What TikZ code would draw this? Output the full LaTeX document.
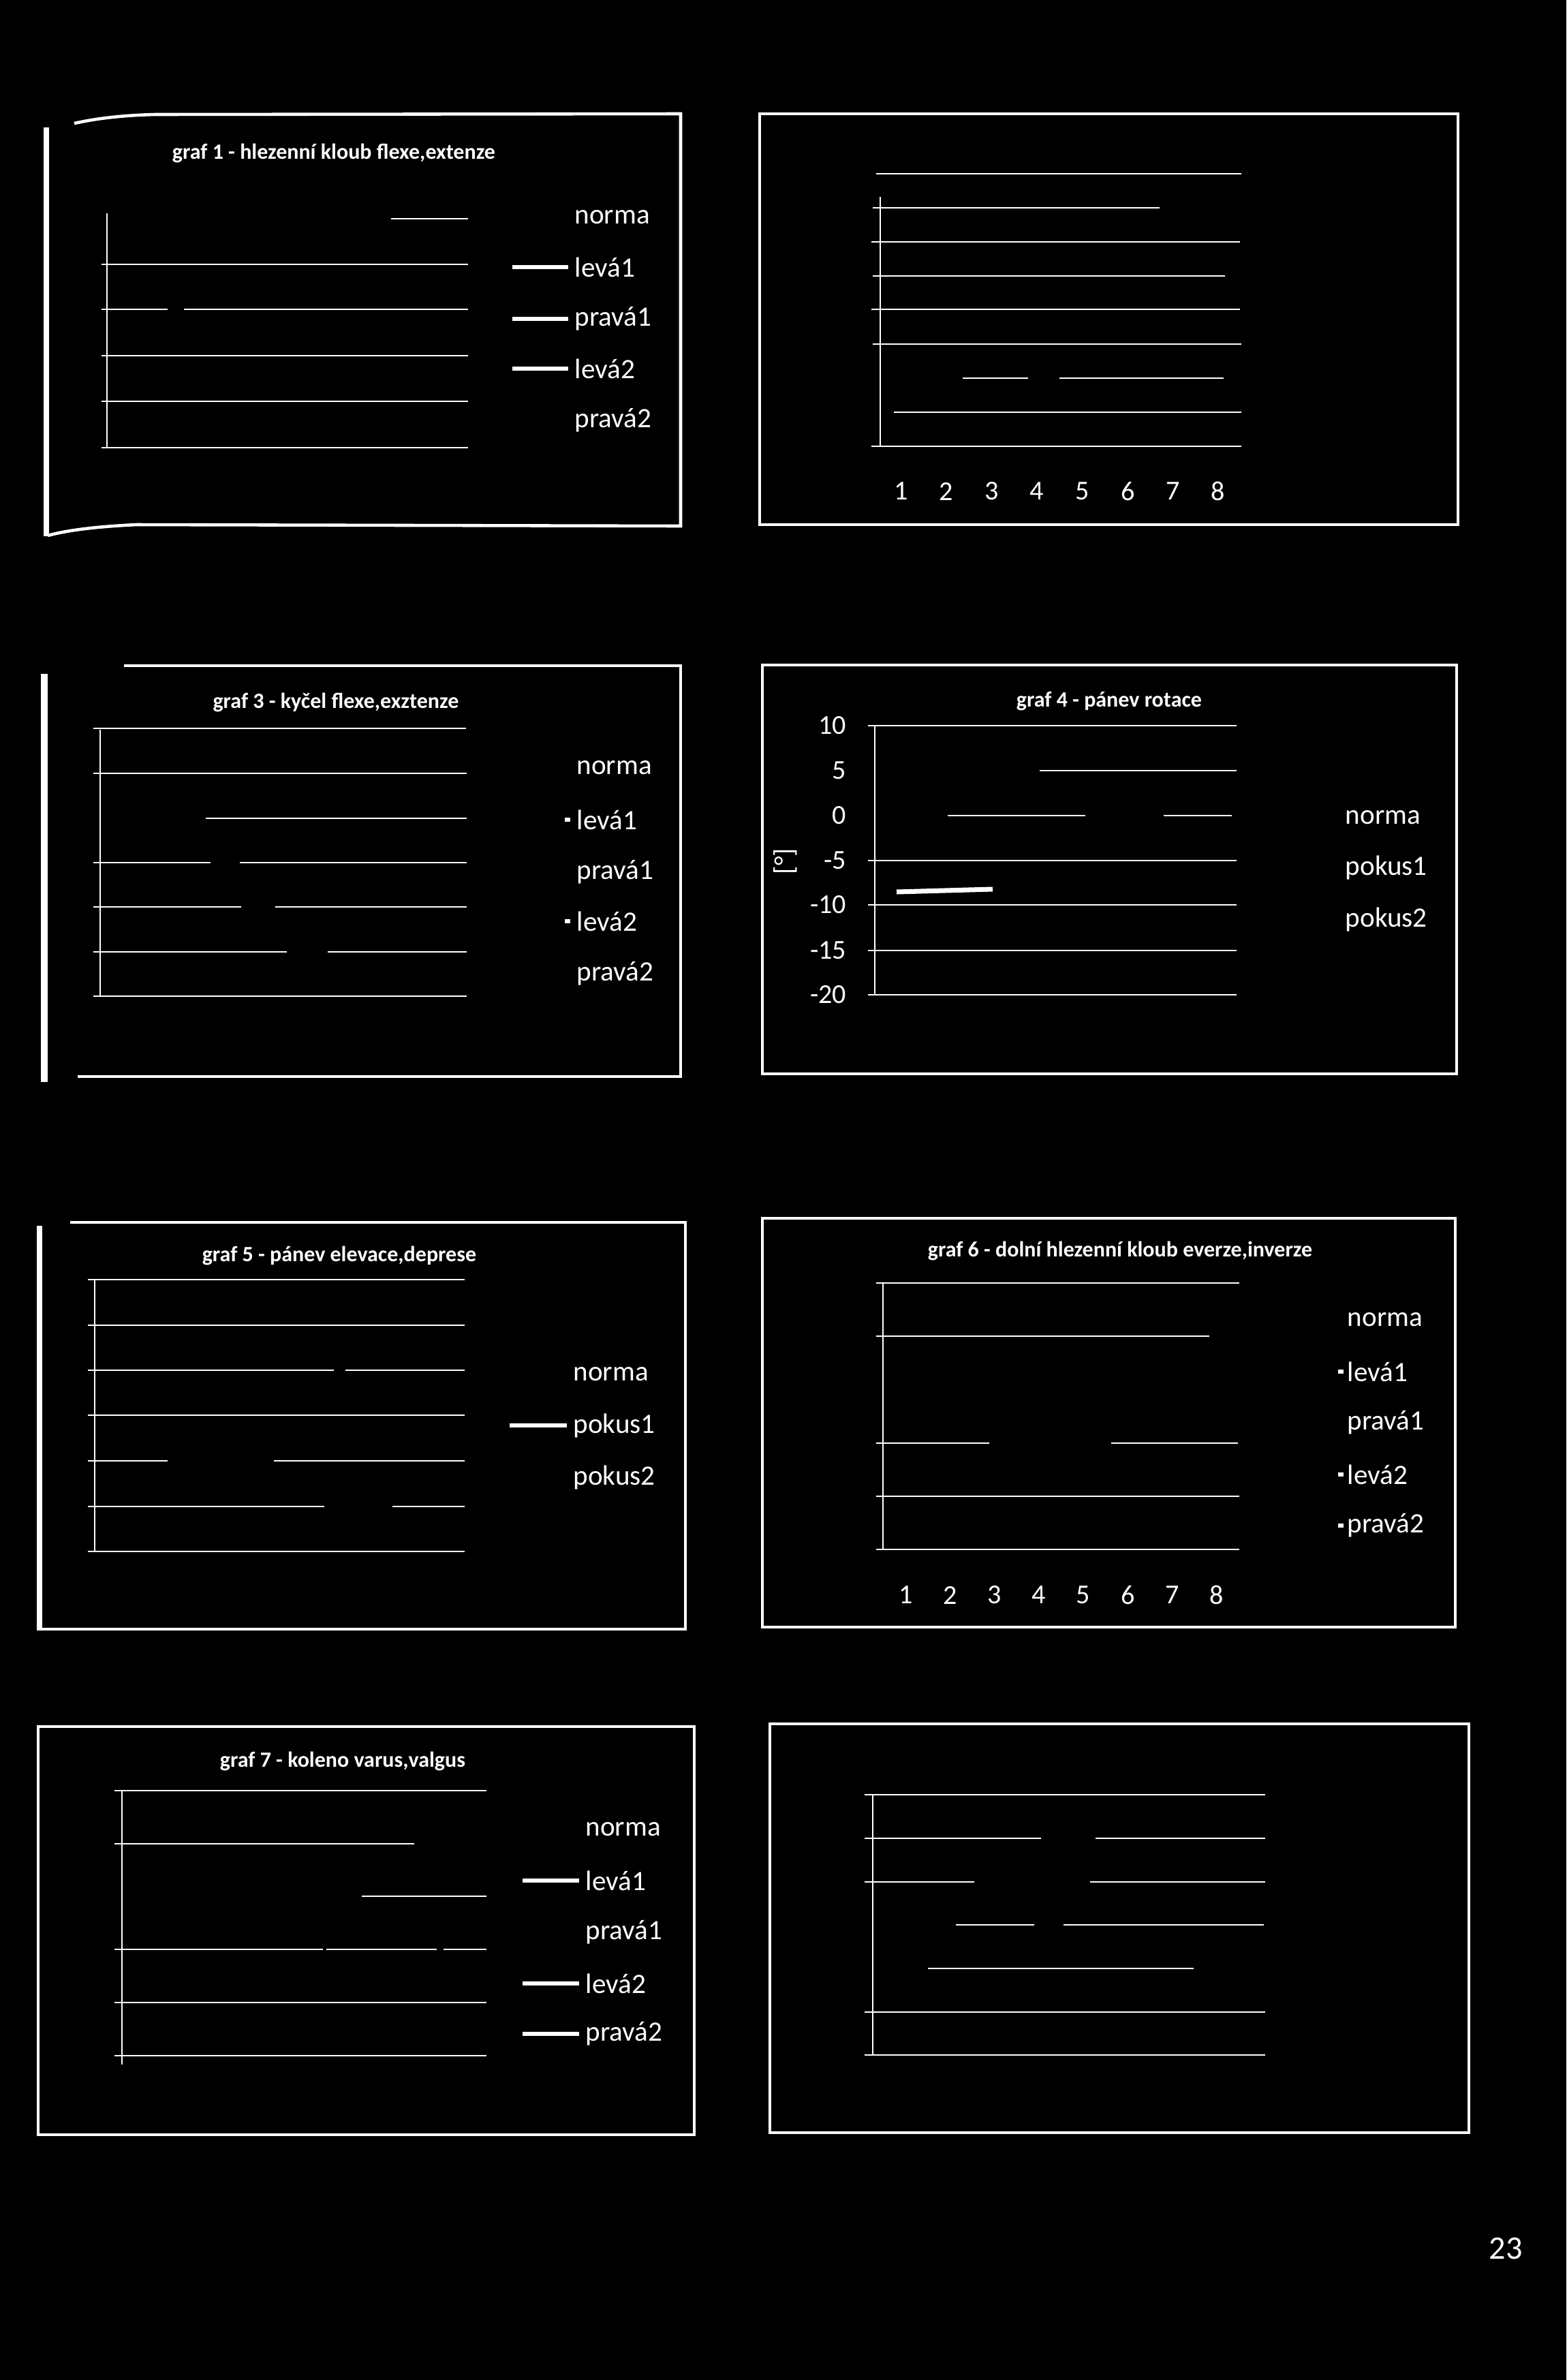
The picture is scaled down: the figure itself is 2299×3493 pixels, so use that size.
\documentclass[tikz,border=0pt]{standalone}
\usepackage{fontspec}
\setmainfont{Carlito}
\begin{document}
\begin{tikzpicture}[x=0.01cm,y=-0.01cm,
  frame/.style={draw=white,line width=1.3pt},
  heavy/.style={draw=white,line width=2.2pt},
  grid/.style={draw=white,line width=0.7pt},
  axis/.style={draw=white,line width=0.6pt},
  legmark/.style={draw=white,line width=1.8pt},
  datal/.style={draw=white,line width=2pt},
  title/.style={text=white,font=\fontsize{9.1}{11}\selectfont\bfseries,inner sep=0pt},
  leg/.style={text=white,font=\fontsize{11.7}{14}\selectfont,anchor=west,inner sep=0pt},
  num/.style={text=white,font=\fontsize{11.4}{14}\selectfont,inner sep=0pt}]
\fill[black] (0,0) rectangle (2299,3493);
\useasboundingbox (0,0) rectangle (2299,3493);

% ---------- panel 1 ----------
\draw[heavy] (68,187) -- (68,787);
\draw[frame] (109,181) .. controls (150,172) and (190,169) .. (227,168) -- (999,167) -- (999,772) -- (200,770) .. controls (140,773) and (100,778) .. (70,786);
\node[title] (t1) at (490,225) {graf 1 - hlezenní kloub flexe,extenze};
\draw[axis] (157,313) -- (157,658);
\draw[grid] (574,321) -- (687,321);
\draw[grid] (149,388) -- (687,388);
\draw[grid] (149,454) -- (246,454) (270,454) -- (687,454);
\draw[grid] (149,522) -- (687,522);
\draw[grid] (149,589) -- (687,589);
\draw[grid] (149,657) -- (687,657);
\node[leg] (a1) at (843,319) {norma};
\node[leg] (a2) at (843,392) {levá1};
\node[leg] (a3) at (843,468) {pravá1};
\node[leg] (a4) at (843,541) {levá2};
\node[leg] (a5) at (843,617) {pravá2};
\draw[legmark] (a2.west) ++(-9,0) -- ++(-82,0);
\draw[legmark] (a3.west) ++(-9,0) -- ++(-82,0);
\draw[legmark] (a4.west) ++(-9,0) -- ++(-82,0);

% ---------- panel 2 ----------
\draw[frame] (1115,167) rectangle (2140,770);
\draw[axis] (1292,289) -- (1292,656);
\draw[grid] (1286,255) -- (1822,255);
\draw[grid] (1281,305) -- (1702,305);
\draw[grid] (1279,355) -- (1820,355);
\draw[grid] (1281,405) -- (1798,405);
\draw[grid] (1279,454) -- (1820,454);
\draw[grid] (1281,505) -- (1822,505);
\draw[grid] (1413,555) -- (1509,555) (1555,555) -- (1796,555);
\draw[grid] (1312,605) -- (1822,605);
\draw[grid] (1279,655) -- (1822,655);
\node[num] (b1) at (1323,721) {1};
\node[num] (b2) at (1389,721) {2};
\node[num] (b3) at (1456,721) {3};
\node[num] (b4) at (1522,721) {4};
\node[num] (b5) at (1589,721) {5};
\node[num] (b6) at (1656,721) {6};
\node[num] (b7) at (1722,721) {7};
\node[num] (b8) at (1788,721) {8};

% ---------- panel 3 ----------
\draw[heavy,line width=2.6pt] (65,989) -- (65,1588);
\draw[frame] (182,977) -- (999,977) -- (999,1580) -- (114,1580);
\node[title] (t3) at (493,1031) {graf 3 - kyčel flexe,exztenze};
\draw[axis] (147,1071) -- (147,1462);
\draw[grid] (137,1069) -- (684,1069);
\draw[grid] (137,1135) -- (685,1135);
\draw[grid] (302,1201) -- (685,1201);
\draw[grid] (137,1266) -- (309,1266) (352,1266) -- (685,1266);
\draw[grid] (137,1331) -- (354,1331) (404,1331) -- (685,1331);
\draw[grid] (137,1397) -- (421,1397) (481,1397) -- (685,1397);
\draw[grid] (137,1462) -- (685,1462);
\node[leg] (c1) at (846,1127) {norma};
\node[leg] (c2) at (846,1203) {levá1};
\node[leg] (c3) at (846,1280) {pravá1};
\node[leg] (c4) at (846,1352) {levá2};
\node[leg] (c5) at (846,1429) {pravá2};
\draw[legmark] (c2.west) ++(-9,0) -- ++(-8,0);
\draw[legmark] (c4.west) ++(-9,0) -- ++(-8,0);

% ---------- panel 4 ----------
\draw[frame] (1119,976) rectangle (2138,1576);
\node[title] (t4) at (1628,1029) {graf 4 - pánev rotace};
\node[num,anchor=east] (d1) at (1243,1065) {10};
\node[num,anchor=east] (d2) at (1243,1131) {5};
\node[num,anchor=east] (d3) at (1243,1197) {0};
\node[num,anchor=east] (d4) at (1243,1263) {-5};
\node[num,anchor=east] (d5) at (1243,1328) {-10};
\node[num,anchor=east] (d6) at (1243,1395) {-15};
\node[num,anchor=east] (d7) at (1243,1460) {-20};
\node[num,rotate=90] (dy) at (1153,1264) {[°]};
\draw[axis] (1284,1065) -- (1284,1460);
\draw[grid] (1274,1065) -- (1815,1065);
\draw[grid] (1526,1131) -- (1815,1131);
\draw[grid] (1391,1197) -- (1593,1197) (1708,1197) -- (1808,1197);
\draw[grid] (1274,1263) -- (1815,1263);
\draw[grid] (1274,1328) -- (1815,1328);
\draw[grid] (1274,1395) -- (1815,1395);
\draw[grid] (1274,1460) -- (1815,1460);
\draw[datal] (1316,1309) -- (1457,1305);
\node[leg] (e1) at (1974,1200) {norma};
\node[leg] (e2) at (1974,1274) {pokus1};
\node[leg] (e3) at (1974,1350) {pokus2};

% ---------- panel 5 ----------
\draw[heavy] (58,1799) -- (58,2392);
\draw[frame] (103,1794) -- (1006,1794) -- (1006,2391) -- (54,2391);
\node[title] (t5) at (498,1843) {graf 5 - pánev elevace,deprese};
\draw[axis] (139,1878) -- (139,2276);
\draw[grid] (129,1878) -- (682,1878);
\draw[grid] (129,1945) -- (682,1945);
\draw[grid] (129,2011) -- (490,2011) (507,2011) -- (682,2011);
\draw[grid] (129,2077) -- (682,2077);
\draw[grid] (129,2144) -- (246,2144) (402,2144) -- (682,2144);
\draw[grid] (129,2211) -- (476,2211) (576,2211) -- (682,2211);
\draw[grid] (129,2277) -- (682,2277);
\node[leg] (f1) at (841,2017) {norma};
\node[leg] (f2) at (841,2092) {pokus1};
\node[leg] (f3) at (841,2168) {pokus2};
\draw[legmark] (f2.west) ++(-9,0) -- ++(-84,0);

% ---------- panel 6 ----------
\draw[frame] (1119,1788) rectangle (2136,2388);
\node[title] (t6) at (1644,1836) {graf 6 - dolní hlezenní kloub everze,inverze};
\draw[axis] (1296,1883) -- (1296,2274);
\draw[grid] (1286,1883) -- (1819,1883);
\draw[grid] (1286,1961) -- (1775,1961);
\draw[grid] (1286,2118) -- (1452,2118) (1631,2118) -- (1817,2118);
\draw[grid] (1286,2196) -- (1819,2196);
\draw[grid] (1286,2274) -- (1819,2274);
\node[num] (g1) at (1330,2341) {1};
\node[num] (g2) at (1395,2341) {2};
\node[num] (g3) at (1460,2341) {3};
\node[num] (g4) at (1525,2341) {4};
\node[num] (g5) at (1590,2341) {5};
\node[num] (g6) at (1656,2341) {6};
\node[num] (g7) at (1721,2341) {7};
\node[num] (g8) at (1786,2341) {8};
\node[leg] (h1) at (1977,1937) {norma};
\node[leg] (h2) at (1977,2013) {levá1};
\node[leg] (h3) at (1977,2088) {pravá1};
\node[leg] (h4) at (1977,2164) {levá2};
\node[leg] (h5) at (1977,2239) {pravá2};
\draw[legmark] (h2.west) ++(-5,0) -- ++(-8,0);
\draw[legmark] (h4.west) ++(-5,0) -- ++(-8,0);
\draw[legmark] (h5.west) ++(-5,0) -- ++(-8,0);

% ---------- panel 7 ----------
\draw[frame] (56,2534) rectangle (1019,3133);
\node[title] (t7) at (503,2585) {graf 7 - koleno varus,valgus};
\draw[axis] (179,2628) -- (179,3030);
\draw[grid] (168,2628) -- (714,2628);
\draw[grid] (168,2706) -- (608,2706);
\draw[grid] (531,2783) -- (714,2783);
\draw[grid] (168,2861) -- (474,2861) (479,2861) -- (641,2861) (651,2861) -- (714,2861);
\draw[grid] (168,2939) -- (714,2939);
\draw[grid] (168,3017) -- (714,3017);
\node[leg] (k1) at (859,2685) {norma};
\node[leg] (k2) at (859,2760) {levá1};
\node[leg] (k3) at (859,2836) {pravá1};
\node[leg] (k4) at (859,2911) {levá2};
\node[leg] (k5) at (859,2985) {pravá2};
\draw[legmark] (k2.west) ++(-9,0) -- ++(-83,0);
\draw[legmark] (k4.west) ++(-9,0) -- ++(-83,0);
\draw[legmark] (k5.west) ++(-9,0) -- ++(-83,0);

% ---------- panel 8 ----------
\draw[frame] (1130,2530) rectangle (2156,3130);
\draw[axis] (1281,2634) -- (1281,3016);
\draw[grid] (1269,2634) -- (1857,2634);
\draw[grid] (1269,2698) -- (1528,2698) (1608,2698) -- (1857,2698);
\draw[grid] (1269,2762) -- (1430,2762) (1600,2762) -- (1857,2762);
\draw[grid] (1403,2825) -- (1518,2825) (1561,2825) -- (1855,2825);
\draw[grid] (1362,2889) -- (1752,2889);
\draw[grid] (1269,2953) -- (1857,2953);
\draw[grid] (1269,3016) -- (1857,3016);

% ---------- page number ----------
\node[text=white,font=\fontsize{13.7}{16}\selectfont,inner sep=0pt] (pg) at (2210,3300) {23};
\end{tikzpicture}
\end{document}
